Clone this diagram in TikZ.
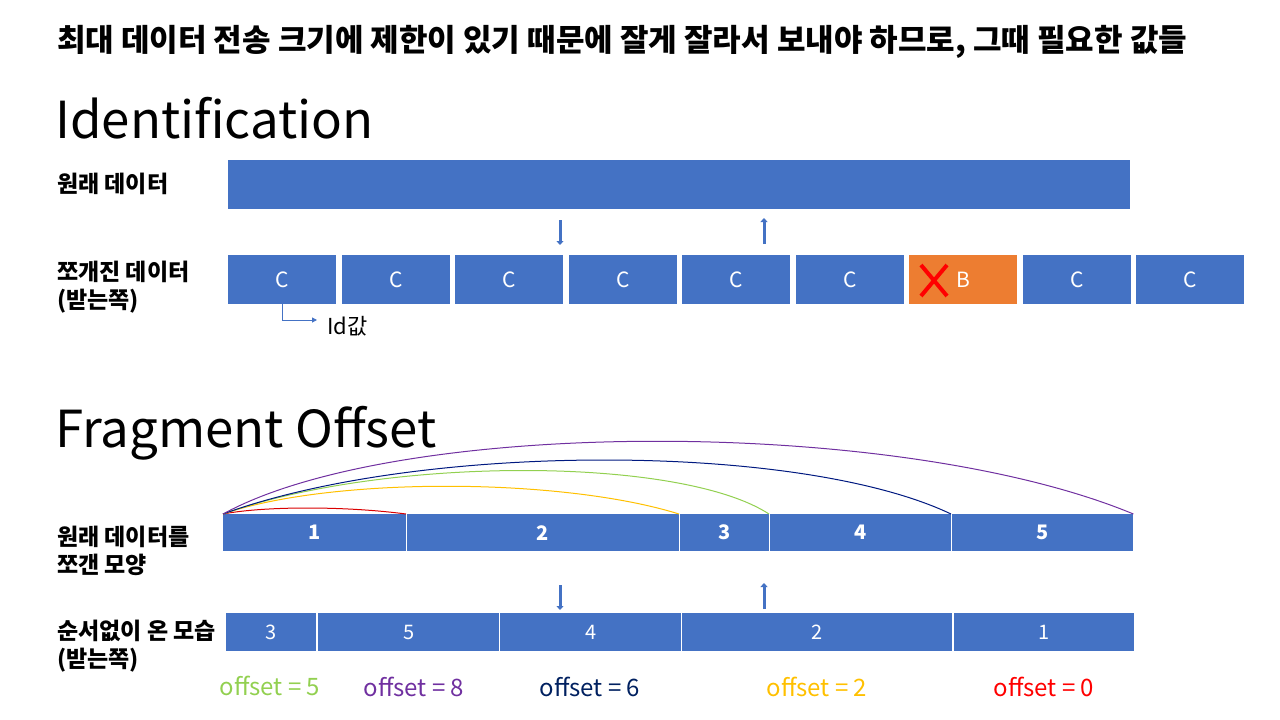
\documentclass[tikz,border=0pt]{standalone}
\usepackage{fontspec}
\setmainfont{Noto Sans CJK KR}
\usetikzlibrary{arrows.meta}
\definecolor{mblue}{HTML}{4472C4}
\definecolor{morange}{HTML}{ED7D31}
\definecolor{oyellow}{HTML}{FFC000}
\definecolor{ogreen}{HTML}{92D050}
\definecolor{onavy}{HTML}{002060}
\definecolor{opurple}{HTML}{7030A0}
\definecolor{ored}{HTML}{FF0000}
\begin{document}
\begin{tikzpicture}[x=1pt,y=-1pt,
  cbox/.style={fill=mblue,anchor=north west,inner sep=0pt,minimum height=49pt,text=white,font=\fontsize{21}{24}\selectfont},
  segA/.style={fill=mblue,anchor=north west,inner sep=0pt,minimum height=37pt,text=white,font=\bfseries\fontsize{20}{24}\selectfont},
  segB/.style={fill=mblue,anchor=north west,inner sep=0pt,minimum height=38pt,text=white,font=\fontsize{20}{24}\selectfont},
  lbl/.style={anchor=west,inner sep=0pt,align=left,font=\bfseries\fontsize{23}{28}\selectfont},
  bigtitle/.style={anchor=west,inner sep=0pt,font=\fontsize{51}{60}\selectfont},
  blockarrow/.style={draw=mblue,line width=3pt,-{Triangle[width=7pt,length=4pt]}},
  offl/.style={inner sep=0pt,font=\fontsize{24}{28}\selectfont},
  arc/.style={line width=1pt}]
\useasboundingbox (0,0) rectangle (1280,720);
% header
\node[anchor=west,inner sep=0pt,font=\bfseries\fontsize{31}{34}\selectfont] (hdr) at (57,42) {최대 데이터 전송 크기에 제한이 있기 때문에 잘게 잘라서 보내야 하므로, 그때 필요한 값들};
% Identification
\node[bigtitle] (idt) at (55,118) {Identification};
\node[lbl] (lorig) at (57,184) {원래 데이터};
\node[fill=mblue,anchor=north west,inner sep=0pt,minimum width=902pt,minimum height=49pt] (orig) at (228,160) {};
\coordinate (d1s) at (560,220); \coordinate (d1e) at (560,245);
\coordinate (u1s) at (764,244); \coordinate (u1e) at (764,218);
\draw[blockarrow] (d1s) -- (d1e);
\draw[blockarrow] (u1s) -- (u1e);
\node[lbl] (lfrag) at (57,287) {쪼개진 데이터\\(받는쪽)};
\foreach \i/\t in {1/C,2/C,3/C,4/C,5/C,6/C,8/C,9/C}{
  \node[cbox,minimum width=108pt] (c\i) at ({228+(\i-1)*113.5},255) {\t};
}
\node[cbox,minimum width=108pt,fill=morange] (c7) at ({228+6*113.5},255) {B};
\draw[ored,line width=4pt] (921,265) -- (947,296);
\draw[ored,line width=4pt] (947,265) -- (921,296);
\node[anchor=west,inner sep=0pt,font=\fontsize{22}{26}\selectfont] (idv) at (327,326) {Id값};
\coordinate (idend) at (317,320);
\draw[mblue,line width=1pt,-{Triangle[width=5pt,length=5pt]}] (c1.south) |- (idend);
% Fragment Offset
\node[bigtitle] (fot) at (55,433) {Fragment Offset};
\node[lbl] (lsplit) at (57,551) {원래 데이터를\\쪼갠 모양};
\node[segA,minimum width=183pt] (a1) at (223,514) {1};
\node[segA,minimum width=273pt] (a2) at (406,514) {2};
\node[segA,minimum width=90pt] (a3) at (679,514) {3};
\node[segA,minimum width=182pt] (a4) at (769,514) {4};
\node[segA,minimum width=182pt] (a5) at (951,514) {5};
\foreach \n in {a1,a2,a3,a4}{\draw[white,line width=1pt] (\n.north east) -- (\n.south east);}
% arcs
\draw[arc,ored!85!black] (a1.north west) .. controls (265,506) and (345,506) .. (a2.north west);
\draw[arc,oyellow] (a1.north west) .. controls (330,477) and (560,477) .. (a3.north west);
\draw[arc,ogreen] (a1.north west) .. controls (385,456) and (680,456) .. (a4.north west);
\draw[arc,onavy!80!blue] (a1.north west) .. controls (420,442) and (800,442) .. (a5.north west);
\draw[arc,opurple] (a1.north west) .. controls (400,417) and (900,417) .. (a5.north east);
\coordinate (d2s) at (560,585); \coordinate (d2e) at (560,610);
\coordinate (u2s) at (764,609); \coordinate (u2e) at (764,583);
\draw[blockarrow] (d2s) -- (d2e);
\draw[blockarrow] (u2s) -- (u2e);
\node[lbl] (lrecv) at (57,646) {순서없이 온 모습\\(받는쪽)};
\node[segB,minimum width=90pt] (b3) at (226,613) {3};
\node[segB,minimum width=181pt] (b5) at (318,613) {5};
\node[segB,minimum width=181pt] (b4) at (500,613) {4};
\node[segB,minimum width=270pt] (b2) at (682,613) {2};
\node[segB,minimum width=180pt] (b1) at (954,613) {1};
\node[offl,text=ogreen] (o5) at (270,686) {offset = 5};
\node[offl,text=opurple] (o8) at (414,687) {offset = 8};
\node[offl,text=onavy] (o6) at (590,687) {offset = 6};
\node[offl,text=oyellow] (o2) at (817,687) {offset = 2};
\node[offl,text=ored] (o0) at (1044,687) {offset = 0};
\end{tikzpicture}
\end{document}
